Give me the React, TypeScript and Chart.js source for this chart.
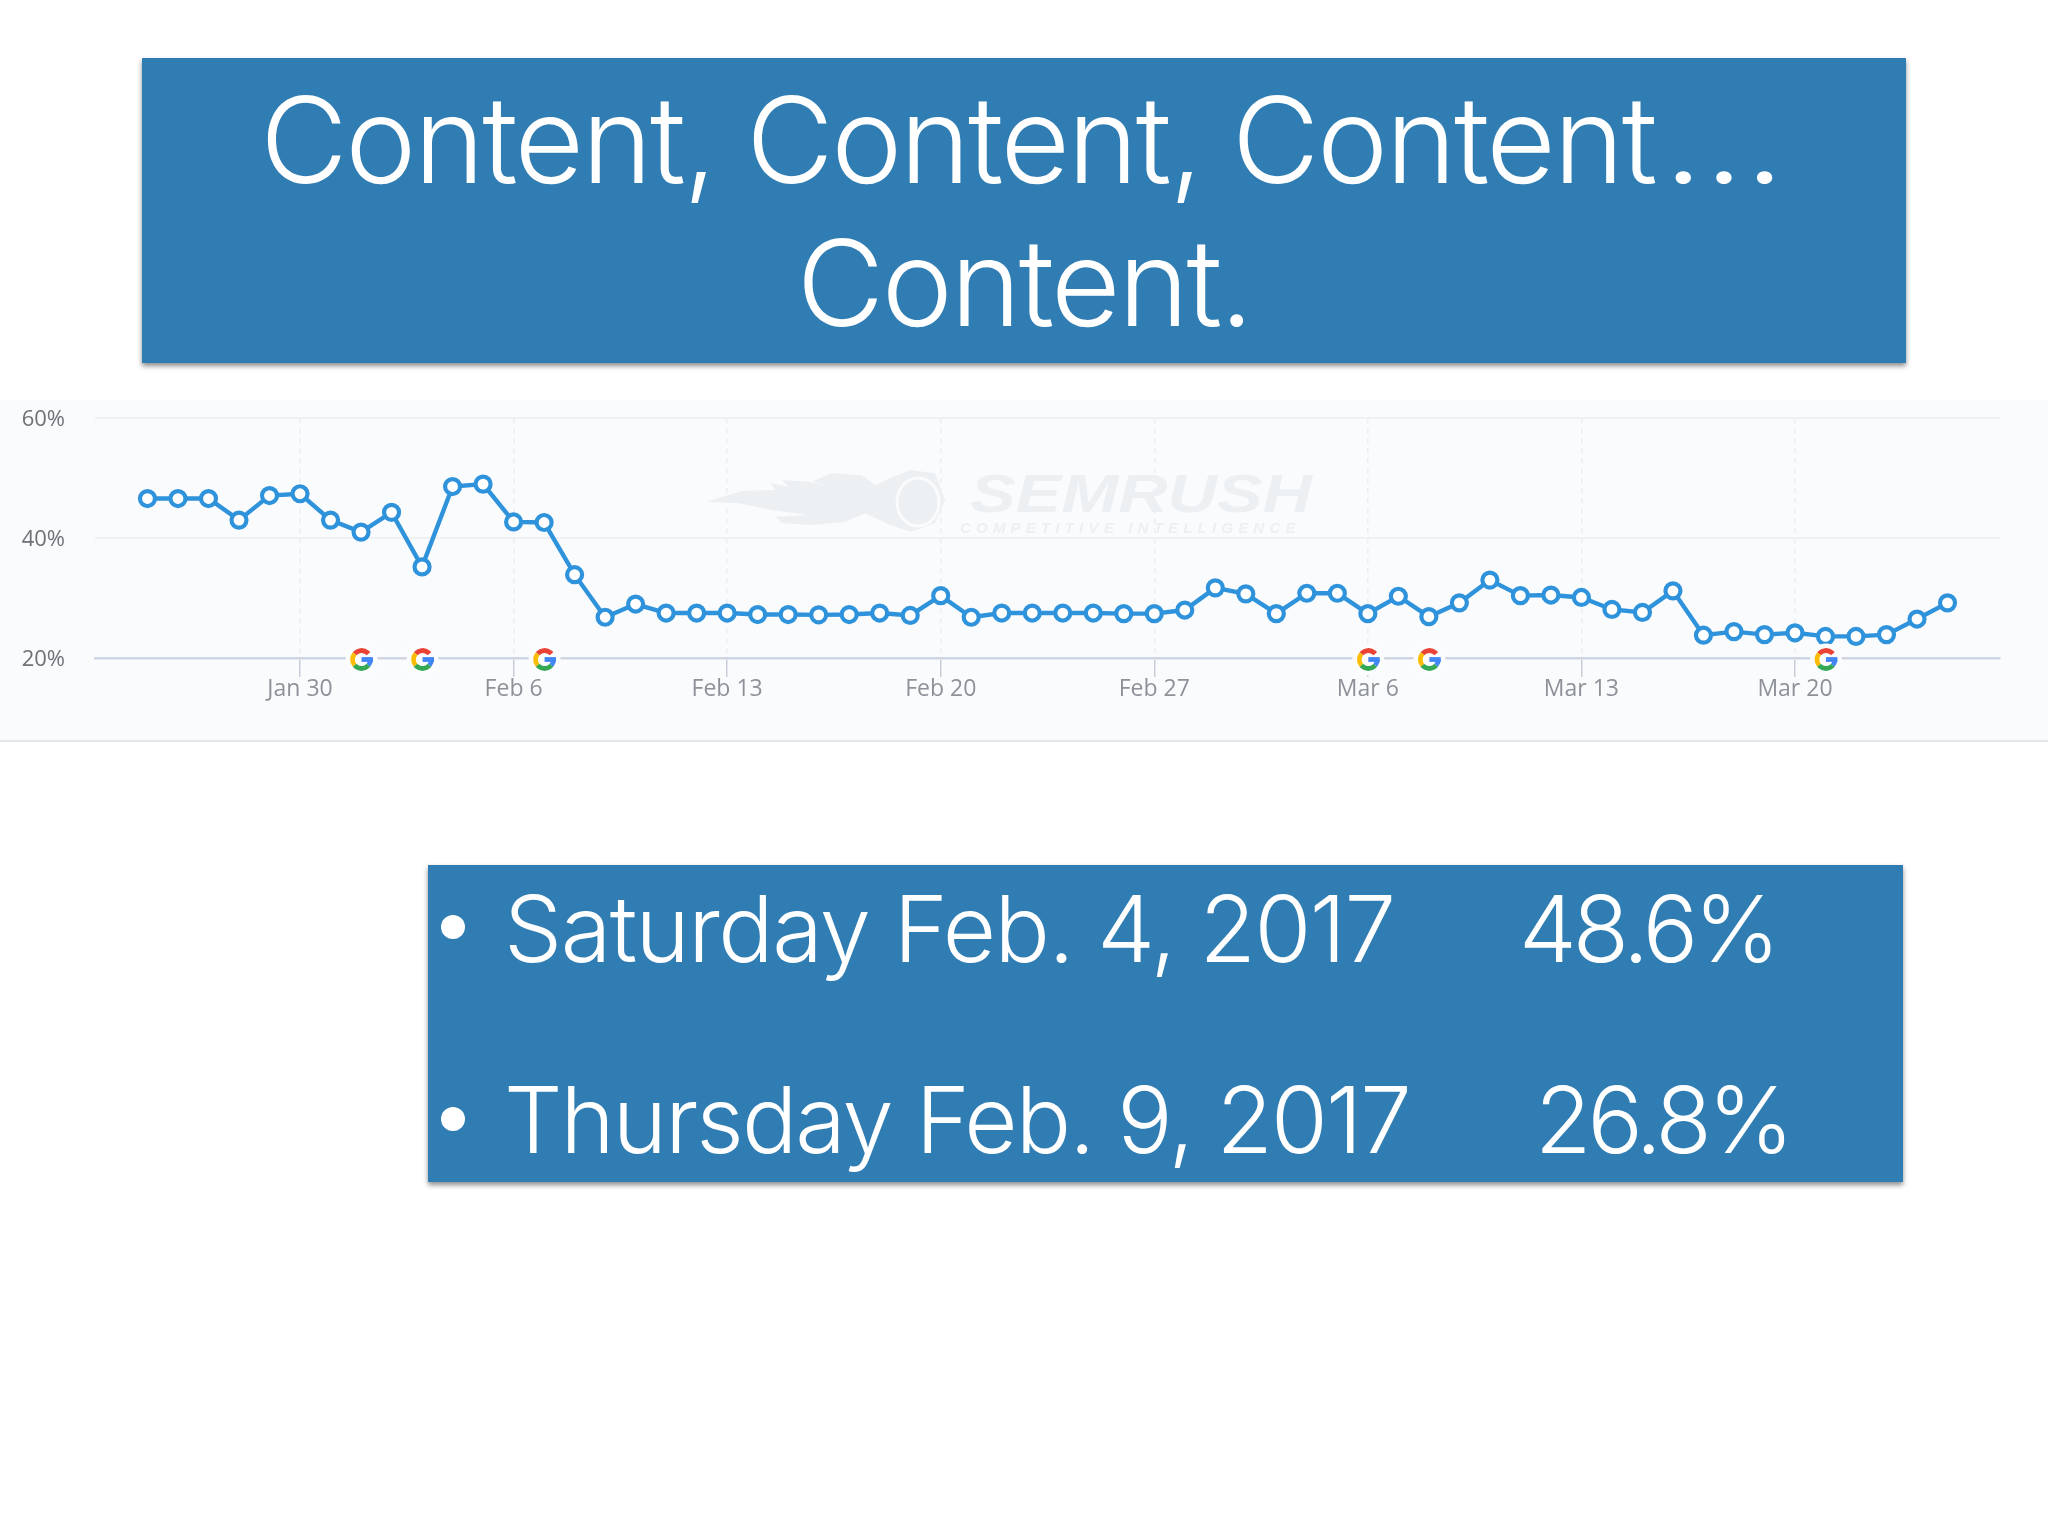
import React, { useEffect, useRef } from "react";
import { Chart, registerables } from "chart.js";

Chart.register(...registerables);

const days = [
  "Jan 25","Jan 26","Jan 27","Jan 28","Jan 29","Jan 30","Jan 31",
  "Feb 1","Feb 2","Feb 3","Feb 4","Feb 5","Feb 6","Feb 7","Feb 8","Feb 9","Feb 10","Feb 11","Feb 12","Feb 13","Feb 14",
  "Feb 15","Feb 16","Feb 17","Feb 18","Feb 19","Feb 20","Feb 21","Feb 22","Feb 23","Feb 24","Feb 25","Feb 26","Feb 27","Feb 28",
  "Mar 1","Mar 2","Mar 3","Mar 4","Mar 5","Mar 6","Mar 7","Mar 8","Mar 9","Mar 10","Mar 11","Mar 12","Mar 13","Mar 14","Mar 15",
  "Mar 16","Mar 17","Mar 18","Mar 19","Mar 20","Mar 21","Mar 22","Mar 23","Mar 24","Mar 25",
];
const shareValues = [
  46.6,46.6,46.6,43.0,47.1,47.4,43.0,
  41.0,44.3,35.2,48.6,49.0,42.7,42.6,33.9,26.8,29.0,27.5,27.5,27.5,27.25,
  27.25,27.2,27.25,27.5,27.1,30.4,26.8,27.5,27.5,27.5,27.5,27.4,27.4,28.0,
  31.7,30.7,27.4,30.8,30.8,27.4,30.3,26.9,29.2,33.0,30.4,30.5,30.1,28.1,27.6,
  31.2,23.8,24.4,23.9,24.2,23.6,23.6,23.9,26.5,29.2,
];
const xTickLabels = ["Jan 30","Feb 6","Feb 13","Feb 20","Feb 27","Mar 6","Mar 13","Mar 20"];
const yTickValues = [20, 40, 60];
const googleUpdateDays = ["Feb 1","Feb 3","Feb 7","Mar 6","Mar 8","Mar 21"];
const titleLines = ["Content, Content, Content", "Content."];
const bulletRows = [
  { date: "Saturday Feb. 4, 2017", share: "48.6%" },
  { date: "Thursday Feb. 9, 2017", share: "26.8%" },
];

const FONT = "'Inter', 'Open Sans', sans-serif";
const CHART_FONT = "'Open Sans', sans-serif";
const WATERMARK = "#ecf0f3";
const PANEL = "#fafbfd";
const CANVAS_TOP = 375;

const flameOutline = [
  [40,155],[130,122],[210,120],[195,98],[245,112],[300,152],[400,140],[408,155],[385,168],[310,165],
  [270,150],[225,90],[290,95],[350,115],[300,95],[345,70],[420,75],[455,105],[490,85],[540,60],
  [600,70],[625,150],[600,220],[540,245],[490,225],[430,190],[380,215],[300,225],[225,220],[210,200],
  [290,195],[200,180],[120,160],
];

function drawGoogleG(ctx: CanvasRenderingContext2D, x: number, y: number) {
  const r = 9;
  ctx.save();
  ctx.fillStyle = "#fbfcfe";
  ctx.beginPath();
  ctx.arc(x, y, 16, 0, Math.PI * 2);
  ctx.fill();
  ctx.lineWidth = 4.8;
  ctx.lineCap = "butt";
  const seg = (color: string, a: number, b: number) => {
    ctx.strokeStyle = color;
    ctx.beginPath();
    ctx.arc(x, y, r, (a * Math.PI) / 180, (b * Math.PI) / 180);
    ctx.stroke();
  };
  seg("#ea4335", -140, -40);
  seg("#fbbc05", 140, 220);
  seg("#34a853", 40, 140);
  seg("#4285f4", 0, 40);
  ctx.fillStyle = "#4285f4";
  ctx.fillRect(x, y - 2.4, r + 2.4, 4.8);
  ctx.restore();
}

const decorPlugin = {
  id: "decor",
  beforeDatasetsDraw(chart: any) {
    const { ctx } = chart;
    ctx.save();
    ctx.translate(0, 400 - CANVAS_TOP);
    ctx.fillStyle = WATERMARK;
    ctx.textBaseline = "alphabetic";
    ctx.textAlign = "left";
    ctx.save();
    ctx.translate(970, 111.5);
    ctx.scale(1.29, 1);
    ctx.font = "italic 700 53px 'Liberation Sans'";
    ctx.fillText("SEMRUSH", 0, 0);
    ctx.restore();
    ctx.font = "italic 700 15px 'Liberation Sans'";
    (ctx as any).letterSpacing = "5.2px";
    ctx.fillText("COMPETITIVE INTELLIGENCE", 960, 133);
    (ctx as any).letterSpacing = "0px";
    ctx.beginPath();
    flameOutline.forEach(([zx, zy], i) => {
      const px = 690 + zx / 2.45;
      const py = 50 + zy / 3;
      if (i === 0) ctx.moveTo(px, py);
      else ctx.lineTo(px, py);
    });
    ctx.closePath();
    ctx.fill();
    ctx.strokeStyle = PANEL;
    ctx.lineWidth = 3;
    ctx.beginPath();
    ctx.ellipse(918, 102, 21, 24, 0, 0, Math.PI * 2);
    ctx.stroke();
    ctx.restore();
  },
  afterDatasetsDraw(chart: any) {
    const { ctx, scales } = chart;
    googleUpdateDays.forEach((d) => {
      drawGoogleG(ctx, scales.x.getPixelForValue(days.indexOf(d)) + 0.5, scales.y.getPixelForValue(20) + 1.5);
    });
  },
};

function ShareChart() {
  const ref = useRef<HTMLCanvasElement>(null);
  useEffect(() => {
    const chart = new Chart(ref.current!, {
      type: "line",
      data: {
        datasets: [
          {
            data: shareValues.map((y, x) => ({ x, y })),
            borderColor: "#2f93dc",
            borderWidth: 4.4,
            pointRadius: 7.5,
            pointBorderWidth: 4.2,
            pointBackgroundColor: "#ffffff",
            pointBorderColor: "#2f93dc",
            tension: 0,
          },
        ],
      },
      options: {
        responsive: false,
        animation: false,
        devicePixelRatio: 1,
        layout: { autoPadding: false, padding: { top: 16, right: 48, left: 0, bottom: 0 } },
        plugins: { legend: { display: false }, tooltip: { enabled: false } },
        scales: {
          x: {
            type: "linear",
            min: -1.72,
            max: 60.72,
            afterBuildTicks: (axis: any) => {
              axis.ticks = xTickLabels.map((l) => ({ value: days.indexOf(l) }));
            },
            afterFit: (axis: any) => { axis.height = 82; },
            grid: {
              color: "#eceef2",
              lineWidth: 1.5,
              tickColor: "#c8ced9",
              tickLength: 19,
              tickBorderDash: [],
            },
            border: { color: "#cfd5e2", width: 2.5, dash: [5, 5] },
            ticks: {
              autoSkip: false,
              maxRotation: 0,
              padding: -1,
              color: "#8d9299",
              font: { family: CHART_FONT, size: 23 },
              callback: (v: any) => days[v] ?? "",
            },
          },
          y: {
            type: "linear",
            min: 20,
            max: 60,
            afterBuildTicks: (axis: any) => {
              axis.ticks = yTickValues.map((value) => ({ value }));
            },
            afterFit: (axis: any) => { axis.width = 95; },
            grid: { color: "#f0f1f4", lineWidth: 2, drawTicks: false },
            border: { display: false },
            ticks: {
              padding: 30,
              labelOffset: 2,
              color: "#6e7277",
              font: { family: CHART_FONT, size: 22 },
              callback: (v: any) => `${v}%`,
            },
          },
        },
      },
      plugins: [decorPlugin],
    } as any);
    return () => chart.destroy();
  }, []);
  return <canvas ref={ref} width={2048} height={740 - CANVAS_TOP} style={{ display: "block", position: "absolute", left: 0, top: CANVAS_TOP }} />;
}

const banner: React.CSSProperties = {
  position: "absolute",
  background: "#2f7db3",
  boxShadow: "0 3px 5px rgba(0,0,0,0.45)",
  color: "#fff",
  fontFamily: FONT,
  fontWeight: 280,
};

export default function App() {
  useEffect(() => {
    document.body.style.margin = "0";
    document.body.style.background = "#fff";
  }, []);
  return (
    <div style={{ position: "absolute", left: 0, top: 0, width: 2048, height: 1536, overflow: "hidden", background: "#fff" }}>
      <div style={{ ...banner, left: 142, top: 58, width: 1764, height: 305, textAlign: "center", fontSize: 120, letterSpacing: -2.4, lineHeight: "143px" }}>
        {titleLines.map((t, i) => (
          <div key={t} style={{ whiteSpace: "nowrap", height: 143, position: "relative", top: 10, left: i === 0 ? -4 : 0 }}>
            {t}
            {i === 0 ? <span style={{ letterSpacing: 0, display: "inline-block", transform: "scaleX(1.2)", transformOrigin: "left", marginLeft: 8, marginRight: 15 }}>…</span> : null}
          </div>
        ))}
      </div>
      <div style={{ position: "absolute", left: 0, top: 400, width: 2048, height: 340, background: PANEL, borderBottom: "2px solid #e3e5e9" }} />
      <ShareChart />
      <div style={{ ...banner, left: 428, top: 865, width: 1475, height: 317, fontSize: 92 }}>
        {bulletRows.map((r, i) => (
          <React.Fragment key={r.date}>
            <div style={{ position: "absolute", left: 13, top: 50 + i * 192, width: 24, height: 24, borderRadius: 12, background: "#fff" }} />
            <div style={{ position: "absolute", left: 76, top: 9 + i * 191, whiteSpace: "nowrap", lineHeight: "110px", letterSpacing: i === 0 ? -1.5 : -1.9 }}>{r.date}</div>
            <div style={{ position: "absolute", left: 1091 + i * 16, top: 9 + i * 191, whiteSpace: "nowrap", lineHeight: "110px", letterSpacing: -4 }}>{r.share}</div>
          </React.Fragment>
        ))}
      </div>
    </div>
  );
}
